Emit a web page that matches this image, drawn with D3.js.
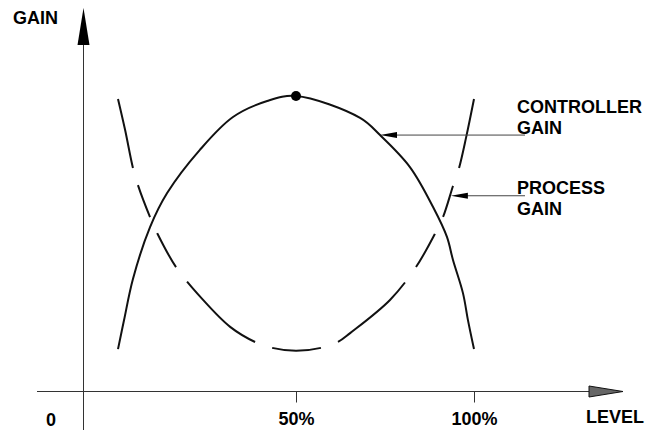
<!DOCTYPE html>
<html lang="en">
<head>
<meta charset="UTF-8">
<title>Controller and Process Gain</title>
<script src="https://d3js.org/d3.v7.min.js"></script>
<style>
    body { margin: 0; background: #fff; }
    text {
        font-family: "Liberation Sans", Arial, sans-serif;
        font-weight: bold;
        font-size: 18px;
        fill: #000;
    }
    .axis-line { stroke: #333; stroke-width: 1; }
    .curve { fill: none; stroke: #111; stroke-width: 2; }
    .leader { stroke: #444; stroke-width: 1; }
</style>
</head>
<body>
<svg width="650" height="430"></svg>
<script>
// values (level in %, gain in arbitrary units 0-100)
const controllerLevel = [0, 1.7, 4.2, 9.0, 13.8, 23.0, 32.3, 41.9, 50, 68.0, 73.6, 82.0, 88.5, 92.4, 94.1, 96.9, 98.3, 100];
const controllerGain  = [14.5, 24.3, 38.2, 55.7, 67.2, 81.8, 92.9, 98.3, 100, 92.6, 86.8, 76.0, 62.5, 52.4, 44.6, 33.4, 24.3, 14.5];

const processLevel = [0, 2.0, 4.2, 5.6, 9.0, 11.0, 16.3, 23.9, 31.5, 38.5, 43.3, 50, 57.0, 61.8, 65.2, 76.4, 83.7, 89.0, 91.3, 94.1, 95.8, 97.8, 100];
const processGain  = [99.0, 88.5, 75.7, 69.9, 59.1, 53.7, 42.2, 31.1, 22.0, 16.9, 14.9, 13.9, 14.9, 16.9, 19.9, 31.1, 42.2, 53.4, 59.1, 69.6, 75.7, 86.1, 99.0];

// where the dashed line is broken (level ranges)
const processGaps = [[4.2, 5.6], [9.0, 11.0], [16.3, 19.4], [38.5, 43.3], [57.0, 61.8], [80.6, 83.7], [89.0, 91.3], [94.1, 95.8]];

const levelTicks = [50, 100];
const tickLabels = ["50%", "100%"];
const originLabel = "0";
const xTitle = "LEVEL";
const yTitle = "GAIN";

// annotation anchors on the curves
const annotNames = [["CONTROLLER", "GAIN"], ["PROCESS", "GAIN"]];
const annotLevel = [73.6, 93.5];
const annotGain  = [86.8, 66.3];

const svg = d3.select("svg");

const x = d3.scaleLinear().domain([0, 100]).range([118, 474]);
const y = d3.scaleLinear().domain([0, 100]).range([392, 96]);

const axisY = 391.5, axisX = 83.5;

// x axis line + arrow
svg.append("line").attr("class", "axis-line")
    .attr("x1", 37).attr("x2", 590).attr("y1", axisY).attr("y2", axisY);
svg.append("path")
    .attr("d", `M589,${axisY - 5.5} L623,${axisY} L589,${axisY + 5.5} Z`)
    .attr("fill", "#666").attr("stroke", "#111").attr("stroke-width", 1);

// y axis line + arrow
svg.append("line").attr("class", "axis-line")
    .attr("x1", axisX).attr("x2", axisX).attr("y1", 44).attr("y2", 430);
svg.append("path")
    .attr("d", `M${axisX},8 L${axisX + 6},45 L${axisX - 6},45 Z`)
    .attr("fill", "#000");

// ticks at 50% and 100%
const xAxis = d3.axisBottom(x)
    .tickValues(levelTicks)
    .tickFormat((d, i) => tickLabels[i])
    .tickSize(11)
    .tickPadding(10);

const gx = svg.append("g")
    .attr("transform", `translate(0,${axisY})`)
    .call(xAxis);
gx.select(".domain").remove();
gx.selectAll(".tick line").attr("stroke", "#333");
gx.selectAll(".tick text")
    .attr("font-family", null).attr("font-size", null)
    .style("font-size", "18px").style("font-weight", "bold").attr("fill", "#000");

svg.append("text").attr("x", 51).attr("y", 426)
    .attr("text-anchor", "middle").text(originLabel);
svg.append("text").attr("x", 586).attr("y", 423).text(xTitle);
svg.append("text").attr("x", 13).attr("y", 24).text(yTitle);

// curves
const line = d3.line()
    .x(d => x(d[0]))
    .y(d => y(d[1]))
    .curve(d3.curveCatmullRom.alpha(0.5));

const controller = controllerLevel.map((l, i) => [l, controllerGain[i]]);
const process = processLevel.map((l, i) => [l, processGain[i]]);

svg.append("path").datum(controller)
    .attr("class", "curve")
    .attr("d", line);

const procPath = svg.append("path").datum(process)
    .attr("class", "curve")
    .attr("d", line);

// turn the gap levels into a dash array along the path
const node = procPath.node();
const total = node.getTotalLength();
function lengthAtX(px) {
    let lo = 0, hi = total;
    for (let k = 0; k < 40; k++) {
        const mid = (lo + hi) / 2;
        if (node.getPointAtLength(mid).x < px) lo = mid; else hi = mid;
    }
    return (lo + hi) / 2;
}
const dashes = [];
let pos = 0;
processGaps.forEach(g => {
    const a = lengthAtX(x(g[0])), b = lengthAtX(x(g[1]));
    dashes.push(a - pos, b - a);
    pos = b;
});
dashes.push(total - pos + 5, 0);
procPath.attr("stroke-dasharray", dashes.map(d => d.toFixed(1)).join(","));

// dot at controller peak
const peak = controller[d3.maxIndex(controller, d => d[1])];
svg.append("circle")
    .attr("cx", x(peak[0])).attr("cy", y(peak[1]))
    .attr("r", 5).attr("fill", "#000");

// annotations with leader arrows
annotNames.forEach((lines, i) => {
    const tx = x(annotLevel[i]), ty = y(annotGain[i]);
    svg.append("line").attr("class", "leader")
        .attr("x1", tx + 10).attr("x2", 525)
        .attr("y1", ty).attr("y2", ty);
    svg.append("path")
        .attr("d", `M${tx},${ty} L${tx + 17},${ty - 3} L${tx + 17},${ty + 3} Z`)
        .attr("fill", "#000");
    const baseY = i === 0 ? 113 : 193.5;
    lines.forEach((t, j) => {
        svg.append("text")
            .attr("x", 517)
            .attr("y", baseY + j * 21)
            .text(t);
    });
});
</script>
</body>
</html>
